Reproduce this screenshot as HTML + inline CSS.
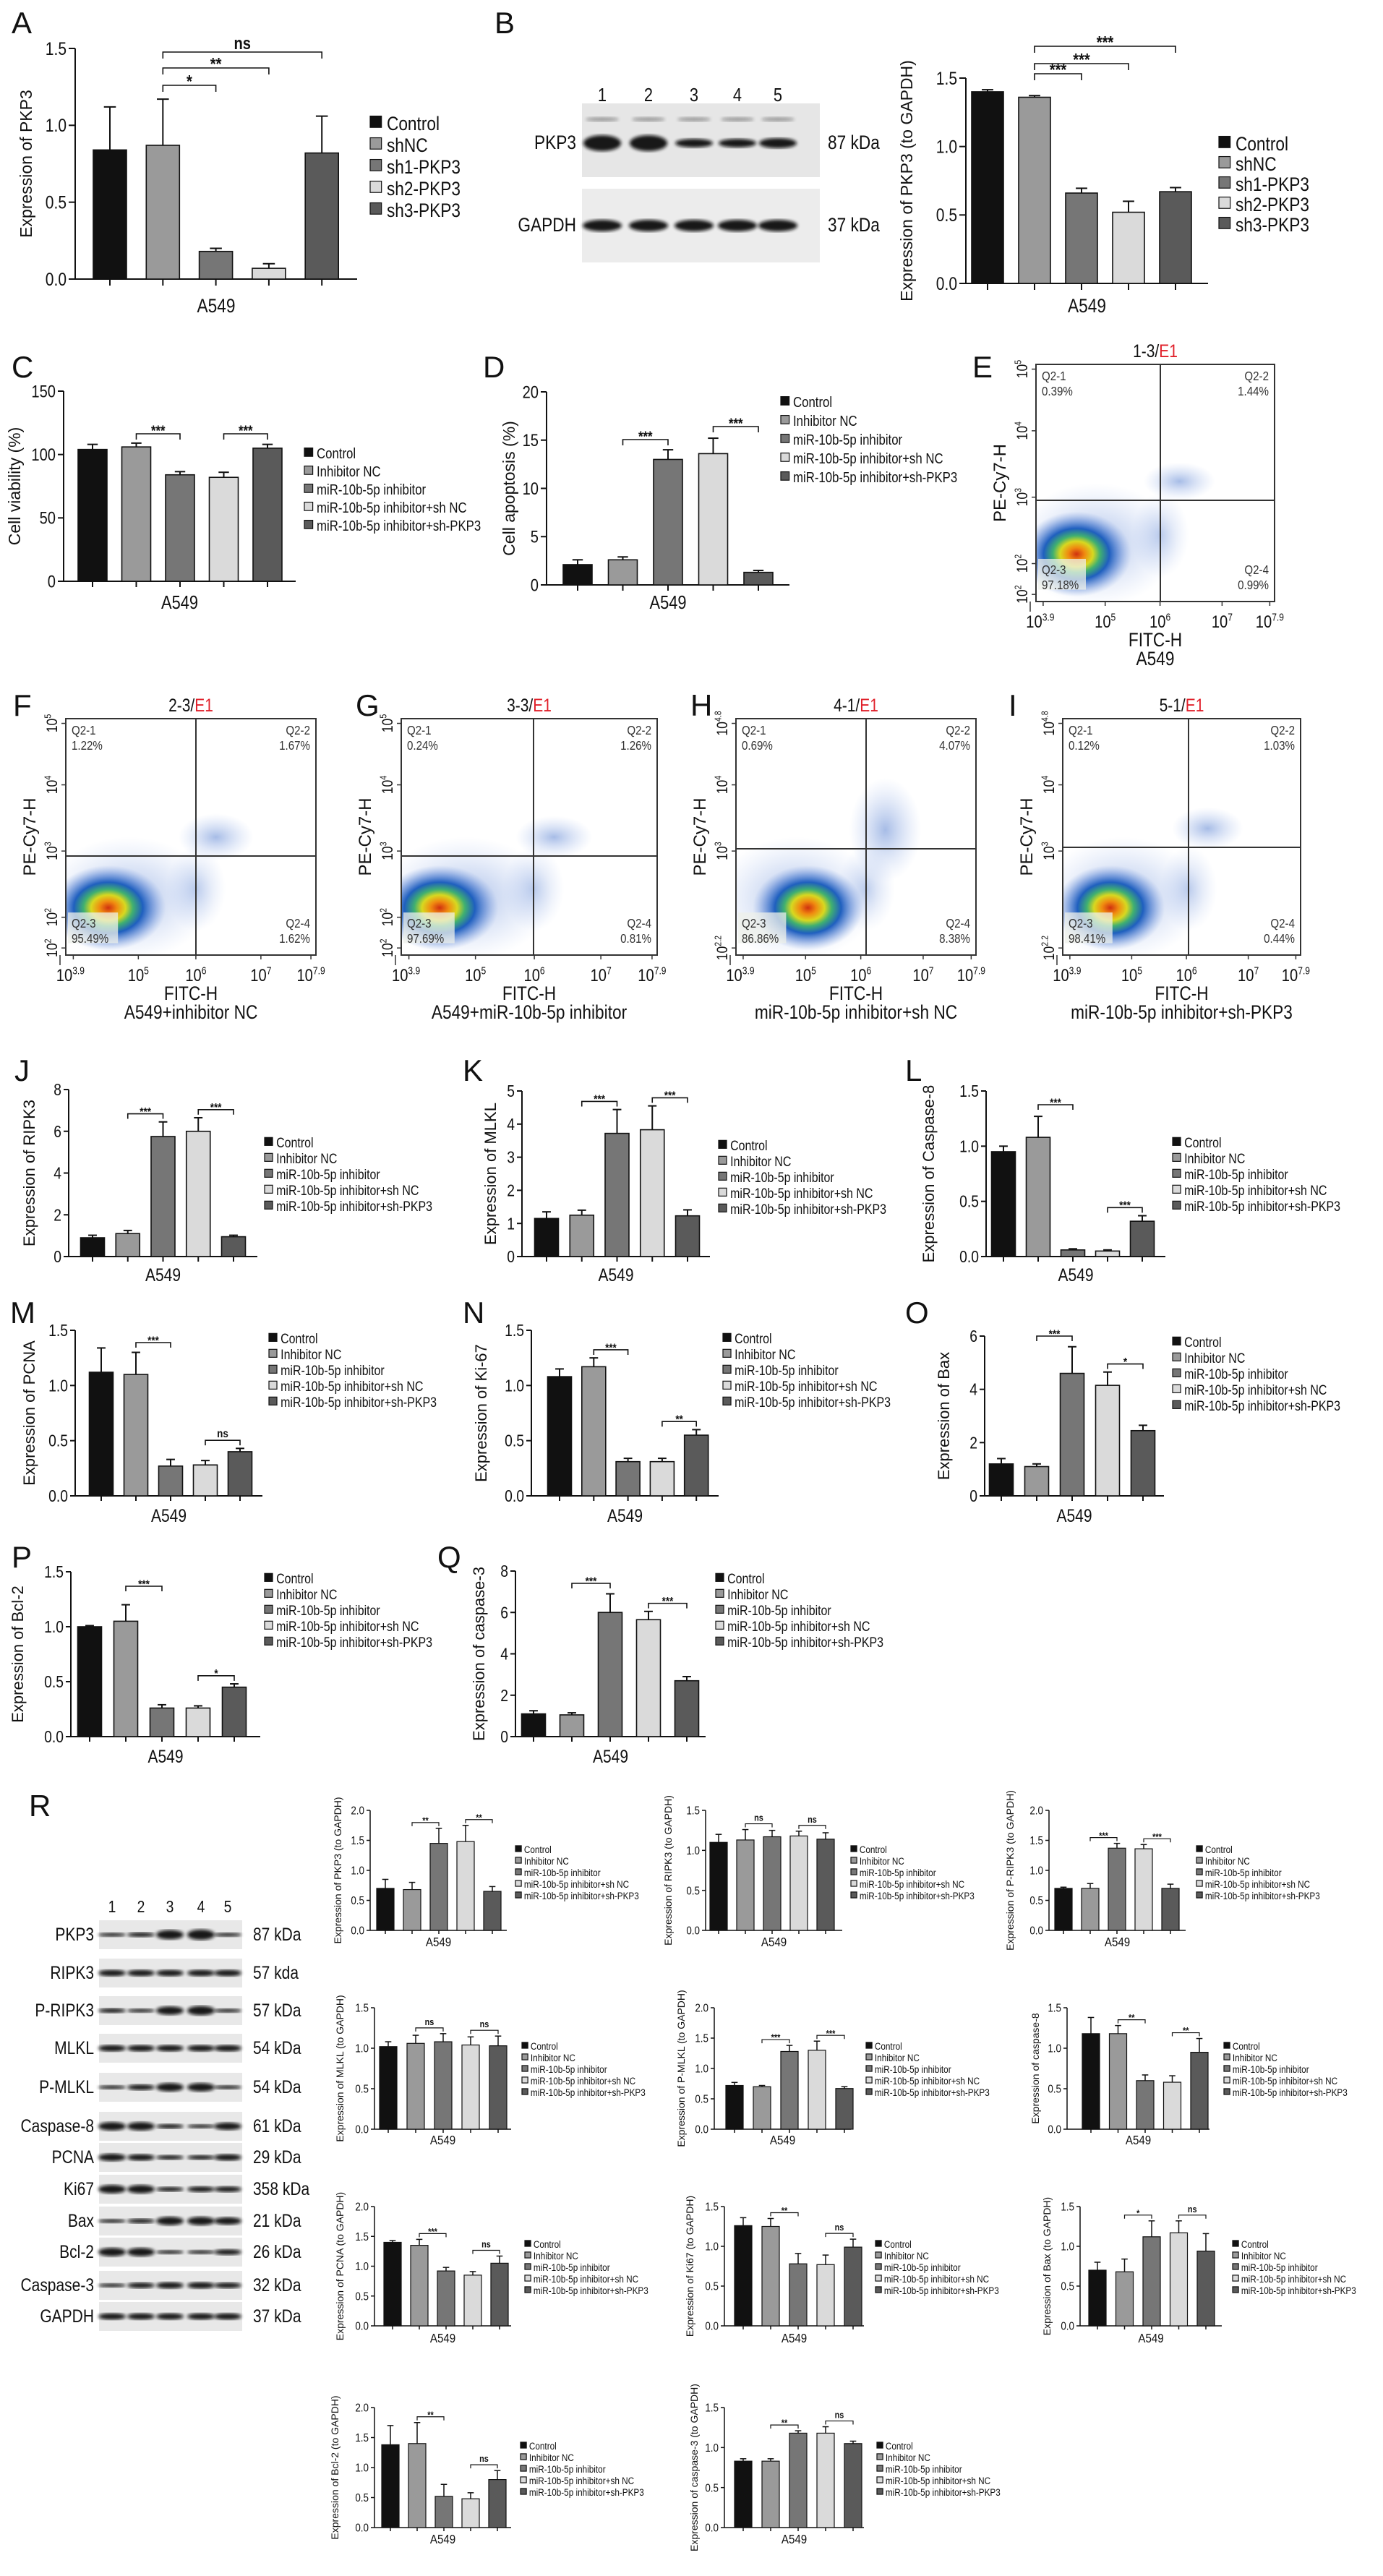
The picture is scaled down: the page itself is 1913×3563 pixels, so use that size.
<!DOCTYPE html>
<html><head><meta charset="utf-8">
<style>
html,body{margin:0;padding:0;background:#fff}
svg{display:block;font-family:"Liberation Sans Narrow","Liberation Sans",sans-serif}
</style></head>
<body>
<svg id="fig" width="1913" height="3563" viewBox="0 0 1913 3563" xmlns="http://www.w3.org/2000/svg">
<defs>
<filter id="blur3"><feGaussianBlur stdDeviation="2.5"/></filter>
<radialGradient id="dens" cx="0.5" cy="0.5" r="0.5">
<stop offset="0" stop-color="#d0300f"/>
<stop offset="0.15" stop-color="#f08a10"/>
<stop offset="0.3" stop-color="#d8d820"/>
<stop offset="0.43" stop-color="#40b070"/>
<stop offset="0.6" stop-color="#1f5fbf"/>
<stop offset="0.8" stop-color="#4a7ad0" stop-opacity="0.5"/>
<stop offset="1" stop-color="#7fa0e0" stop-opacity="0"/>
</radialGradient>
<radialGradient id="sparse" cx="0.5" cy="0.5" r="0.5">
<stop offset="0" stop-color="#3a6ac8" stop-opacity="0.45"/>
<stop offset="1" stop-color="#8aa8e8" stop-opacity="0"/>
</radialGradient>
</defs>
</svg>
<script>
// ---------- DATA ----------
const groupsA=['Control','shNC','sh1-PKP3','sh2-PKP3','sh3-PKP3'];
const groupsMi=['Control','Inhibitor NC','miR-10b-5p inhibitor','miR-10b-5p inhibitor+sh NC','miR-10b-5p inhibitor+sh-PKP3'];
const valsA=[0.84,0.87,0.18,0.07,0.82];
const errsA=[0.28,0.30,0.02,0.03,0.24];
const valsB=[1.40,1.36,0.66,0.52,0.67];
const errsB=[0.015,0.012,0.035,0.08,0.03];
const valsC=[104,106,84,82,105];
const errsC=[4,3,2.5,4,3];
const valsD=[2.1,2.6,13,13.6,1.3];
const errsD=[0.5,0.3,1.0,1.6,0.2];
const valsJ=[0.9,1.1,5.75,6.0,0.95];
const errsJ=[0.12,0.15,0.7,0.65,0.07];
const valsK=[1.15,1.25,3.72,3.83,1.23];
const errsK=[0.2,0.15,0.72,0.72,0.18];
const valsL=[0.95,1.08,0.06,0.05,0.32];
const errsL=[0.05,0.19,0.01,0.01,0.05];
const valsM=[1.12,1.10,0.27,0.28,0.40];
const errsM=[0.22,0.20,0.06,0.04,0.03];
const valsN=[1.08,1.17,0.31,0.31,0.55];
const errsN=[0.07,0.08,0.03,0.03,0.05];
const valsO=[1.2,1.1,4.6,4.15,2.45];
const errsO=[0.2,0.1,1.0,0.5,0.2];
const valsP=[1.0,1.05,0.26,0.26,0.45];
const errsP=[0.01,0.15,0.03,0.02,0.03];
const valsQ=[1.1,1.05,6.0,5.65,2.7];
const errsQ=[0.15,0.1,0.9,0.4,0.2];
const valsR_PKP3=[0.70,0.68,1.45,1.48,0.65];
const errsR_PKP3=[0.15,0.12,0.25,0.27,0.08];
const valsR_RIPK3=[1.10,1.13,1.17,1.18,1.14];
const errsR_RIPK3=[0.10,0.13,0.08,0.06,0.08];
const valsR_PRIPK3=[0.70,0.70,1.37,1.36,0.70];
const errsR_PRIPK3=[0.02,0.08,0.08,0.07,0.07];
const valsR_MLKL=[1.02,1.06,1.08,1.04,1.03];
const errsR_MLKL=[0.06,0.10,0.10,0.10,0.12];
const valsR_PMLKL=[0.72,0.70,1.28,1.30,0.67];
const errsR_PMLKL=[0.05,0.02,0.10,0.15,0.03];
const valsR_C8=[1.18,1.18,0.60,0.58,0.95];
const errsR_C8=[0.20,0.10,0.07,0.08,0.17];
const valsR_PCNA=[1.40,1.35,0.92,0.85,1.05];
const errsR_PCNA=[0.03,0.10,0.06,0.06,0.12];
const valsR_Ki67=[1.26,1.25,0.78,0.77,0.99];
const errsR_Ki67=[0.10,0.10,0.13,0.12,0.10];
const valsR_Bax=[0.70,0.68,1.12,1.17,0.94];
const errsR_Bax=[0.10,0.16,0.20,0.15,0.22];
const valsR_Bcl2=[1.38,1.40,0.52,0.48,0.80];
const errsR_Bcl2=[0.32,0.35,0.20,0.10,0.15];
const valsR_C3=[0.83,0.83,1.18,1.18,1.05];
const errsR_C3=[0.03,0.03,0.03,0.08,0.03];
const ticks15=['0.0','0.5','1.0','1.5'];
const ticks20=['0.0','0.5','1.0','1.5','2.0'];
const ticksC=['0','50','100','150'];
const ticksD=['0','5','10','15','20'];
const ticks8=['0','2','4','6','8'];
const ticks5=['0','1','2','3','4','5'];
const ticks6=['0','2','4','6'];
const blotRows=['PKP3','RIPK3','P-RIPK3','MLKL','P-MLKL','Caspase-8','PCNA','Ki67','Bax','Bcl-2','Caspase-3','GAPDH'];
const blotKda=['87 kDa','57 kda','57 kDa','54 kDa','54 kDa','61 kDa','29 kDa','358 kDa','21 kDa','26 kDa','32 kDa','37 kDa'];
const blotBands=[[4,5,10,11,4],[7,7,7,7,7],[5,4,9,10,4],[7,7,7,7,7],[4,6,9,9,4],[9,9,5,4,8],[8,7,5,5,7],[9,9,5,6,6],[4,5,9,9,8],[9,9,4,4,6],[4,6,7,7,6],[7,7,7,7,7]];
const COLORS=['#111111','#9a9a9a','#767676','#dadada','#5a5a5a'];

// ---------- helpers ----------
const svg=document.getElementById('fig');
const NS='http://www.w3.org/2000/svg';
const SX=0.84;
function mk(tag,attrs,parent){const e=document.createElementNS(NS,tag);for(const k in attrs)e.setAttribute(k,attrs[k]);(parent||svg).appendChild(e);return e;}
function txt(s,x,y,fs,anchor,parent,extra){
  extra=extra||{};
  let a;
  if(extra.transform){a=Object.assign({x:x,y:y,'font-size':fs,'text-anchor':anchor||'start',fill:'#111'},extra);a.transform=extra.transform+` scale(${SX},1)`;}
  else a=Object.assign({x:0,y:0,'font-size':fs,'text-anchor':anchor||'start',fill:'#111',transform:`translate(${x},${y}) scale(${SX},1)`},extra);
  const t=mk('text',a,parent);t.textContent=s;return t;}

function panelLabel(s,x,y){
  const t=mk('text',{x:x,y:y,'font-size':42,fill:'#111','font-family':'Liberation Sans, sans-serif'});
  t.textContent=s;
  
  
}

function barChart(c,vals,errs,tickLabels,labels){
  const g=mk('g',{});
  
  
  const ymax=c.ymax;
  const yS=v=>c.yb-(v/ymax)*(c.yb-c.yt);
  const xS=i=>c.c0+i*c.dc;
  const sw=c.sw||2;
  const ya=mk('line',{x1:c.ax,y1:c.yt,x2:c.ax,y2:c.yb,stroke:'#111','stroke-width':sw},g);
  
  
  const xa=mk('line',{x1:c.ax,y1:c.yb,x2:c.ar,y2:c.yb,stroke:'#111','stroke-width':sw},g);
  
  
  const n=tickLabels.length;
  for(let k=0;k<n;k++){
    const v=ymax*k/(n-1);const y=yS(v);
    mk('line',{x1:c.ax-c.tl,y1:y,x2:c.ax,y2:y,stroke:'#111','stroke-width':sw},g);
    const t=txt(tickLabels[k],c.ax-c.tl-3,y+c.tfs*0.35,c.tfs,'end',g);
    
    
  }
  vals.forEach((v,i)=>{
    const x=xS(i);
    mk('line',{x1:x,y1:c.yb,x2:x,y2:c.yb+c.tl,stroke:'#111','stroke-width':sw},g);
    const top=yS(v+errs[i]);
    const el=mk('line',{x1:x,y1:yS(v),x2:x,y2:top,stroke:'#111','stroke-width':sw},g);
    
    
    mk('line',{x1:x-c.bw*0.18,y1:top,x2:x+c.bw*0.18,y2:top,stroke:'#111','stroke-width':sw},g);
    const r=mk('rect',{x:x-c.bw/2,y:yS(v),width:c.bw,height:c.yb-yS(v),fill:COLORS[i],stroke:'#111','stroke-width':sw*0.8},g);
    
    
  });
  (c.br||[]).forEach(b=>{
    const i=b[0],j=b[1];
    const y=(b[2]!=null)?b[2]:yS(Math.max(vals[i]+errs[i],vals[j]+errs[j]))-c.tl*1.6;
    const p=mk('path',{d:`M${xS(i)},${y+c.tl}V${y}H${xS(j)}V${y+c.tl}`,fill:'none',stroke:'#111','stroke-width':sw*0.8},g);
    
    
    const t=txt(b[3],(xS(i)+xS(j))/2,b[3]==='ns'?y-4:y+c.tfs*0.1,c.sfs,'middle',g,{'font-weight':'bold'});
    
    
  });
  const yt=mk('text',{x:0,y:0,'font-size':c.yfs,'text-anchor':'middle',fill:'#111',transform:`translate(${c.ytx},${(c.yt+c.yb)/2}) rotate(-90)`,'font-family':'Liberation Sans, sans-serif'},g);
  yt.textContent=c.ytitle;
  
  
  const xl=txt('A549',(c.ax+c.ar)/2,c.xly,c.xfs,'middle',g);
  
  
  labels.forEach((s,i)=>{
    const y=c.ly+i*c.ldy;
    const sq=mk('rect',{x:c.lx,y:y-c.lfs*0.72,width:c.lfs*0.58,height:c.lfs*0.58,fill:COLORS[i],stroke:'#111','stroke-width':1.2},g);
    
    
    const t=txt(s,c.lx+c.lfs*0.85,y,c.lfs,'start',g);
    
    
  });
}

function sup(parent,base,exp,x,y,fs,anchor,rot){
  const t=mk('text',{x:0,y:0,'font-size':fs,'text-anchor':anchor||'middle',fill:'#111',transform:`translate(${x},${y})${rot?' rotate(-90)':''} scale(${SX},1)`},parent);
  const a=mk('tspan',{},t);a.textContent=base;
  const b=mk('tspan',{dy:-fs*0.4,'font-size':fs*0.6},t);b.textContent=exp;
  return t;
}

function flow(f){
  const g=mk('g',{});
  
  
  const [x0,y0,x1,y1]=f.box;const w=x1-x0,h=y1-y0;
  const clip=mk('clipPath',{id:'clip'+f.id},g);
  mk('rect',{x:x0,y:y0,width:w,height:h},clip);
  const dg=mk('g',{'clip-path':`url(#clip${f.id})`},g);
  mk('ellipse',{cx:x0+w*0.25,cy:y0+h*0.76,rx:w*0.34,ry:h*0.26,fill:'url(#sparse)'},dg);
  mk('ellipse',{cx:f.cross[0]+w*0.08,cy:f.cross[1]-h*0.08,rx:w*0.15,ry:h*f.upr,fill:'url(#sparse)'},dg);
  mk('ellipse',{cx:f.cross[0],cy:y0+h*0.72,rx:w*0.12,ry:h*0.18,fill:'url(#sparse)',opacity:0.7},dg);
  const bl=mk('ellipse',{cx:x0+w*f.bx,cy:y0+h*0.8,rx:w*0.23,ry:h*0.18,fill:'url(#dens)'},dg);
  
  
  mk('rect',{x:x0+3,y:y0+h*0.82,width:w*0.2,height:h*0.13,fill:'#eef0ea',opacity:0.75},dg);
  const fr=mk('rect',{x:x0,y:y0,width:w,height:h,fill:'none',stroke:'#333','stroke-width':2},g);
  
  
  const vl=mk('line',{x1:f.cross[0],y1:y0,x2:f.cross[0],y2:y1,stroke:'#333','stroke-width':2},g);
  
  
  const hl=mk('line',{x1:x0,y1:f.cross[1],x2:x1,y2:f.cross[1],stroke:'#333','stroke-width':2},g);
  
  
  const t=mk('text',{x:0,y:0,'font-size':25,'text-anchor':'middle',fill:'#111',transform:`translate(${(x0+x1)/2},${y0-10}) scale(${SX},1)`},g);
  
  
  const t1=mk('tspan',{},t);t1.textContent=f.title+'/';
  const t2=mk('tspan',{fill:'#e0202a'},t);t2.textContent='E1';
  const qfs=18;
  const q=[[x0+8,y0+22,'start','Q2-1',f.q[0]],[x1-8,y0+22,'end','Q2-2',f.q[1]],[x0+8,y1-38,'start','Q2-3',f.q[2]],[x1-8,y1-38,'end','Q2-4',f.q[3]]];
  q.forEach(a=>{
    const qt=txt(a[3],a[0],a[1],qfs,a[2],g,{fill:'#333'});
    
    
    const qv=txt(a[4],a[0],a[1]+21,qfs,a[2],g,{fill:'#333'});
    
    
  });
  const xf=[0.03,0.29,0.52,0.78,0.98];const xe=['3.9','5','6','7','7.9'];
  xf.forEach((fr2,i)=>{
    mk('line',{x1:x0+w*fr2,y1:y1,x2:x0+w*fr2,y2:y1+6,stroke:'#333','stroke-width':1.5},g);
    const s=sup(g,'10',xe[i],x0+w*fr2+(i==0?-4:0),y1+36,24,'middle');
    
    
  });
  mk('line',{x1:x0-8,y1:y1,x2:x0-8,y2:y1+14,stroke:'#333','stroke-width':1.5},g);
  const yf=[0.02,0.28,0.56,0.84,0.97];
  f.ye.forEach((e,i)=>{
    if(e==null)return;
    const yy=y0+h*yf[i];
    mk('line',{x1:x0-6,y1:yy,x2:x0,y2:yy,stroke:'#333','stroke-width':1.5},g);
    const s=sup(g,'10',e,x0-12,yy,21,'middle',true);
    
    
  });
  const yt=mk('text',{x:0,y:0,'font-size':24,'text-anchor':'middle',fill:'#111',transform:`translate(${x0-42},${(y0+y1)/2}) rotate(-90)`,'font-family':'Liberation Sans, sans-serif'},g);
  yt.textContent='PE-Cy7-H';
  
  
  const xt=txt('FITC-H',(x0+x1)/2,y1+62,27,'middle',g);
  
  
  const st=txt(f.sub,(x0+x1)/2,y1+88,27,'middle',g);
  
  
}

function band(parent,cx,cy,w,h,op){
  mk('ellipse',{cx:cx,cy:cy,rx:w/2,ry:h/2,fill:'#111',opacity:op==null?0.95:op,filter:'url(#blur3)'},parent);
}

// ---------- PANEL LABELS ----------
[['A',16,46],['B',684,46],['C',16,522],['D',668,522],['E',1345,522],['F',18,990],['G',492,990],['H',955,990],['I',1395,990],['J',20,1495],['K',640,1495],['L',1252,1495],['M',14,1830],['N',640,1830],['O',1252,1830],['P',16,2168],['Q',605,2168],['R',40,2512]].forEach(a=>panelLabel(a[0],a[1],a[2]));

// ---------- A ----------
barChart({name:'chart-a-pkp3-expression',ax:104,ar:494,yt:67,yb:386,ymax:1.5,c0:152,dc:73.3,bw:46,tl:9,tfs:25,sfs:24,ytitle:'Expression of PKP3',ytx:44,yfs:23,xly:432,xfs:27,lx:512,ly:180,ldy:30,lfs:27,
 br:[[1,2,118,'*'],[1,3,94,'**'],[1,4,72,'ns']]},valsA,errsA,ticks15,groupsA);
// ---------- B blot ----------
(function(){
 const g=mk('g',{});
 
 
 mk('rect',{x:805,y:143,width:329,height:102,fill:'#e6e6e6'},g);
 mk('rect',{x:805,y:261,width:329,height:102,fill:'#ececec'},g);
 const lanes=[833,897,960,1020,1076];const hp=[22,22,12,12,14];
 lanes.forEach((x,i)=>{band(g,x,198,52,hp[i]);band(g,x,165,46,6,0.35);band(g,x,312,54,16);
   const l=txt(String(i+1),x,140,26,'middle',g);
   
   });
 const a=txt('PKP3',797,206,27,'end',g);
 const b=txt('GAPDH',797,320,27,'end',g);
 const c=txt('87 kDa',1145,206,27,'start',g);
 const d=txt('37 kDa',1145,320,27,'start',g);
})();
barChart({name:'chart-b-pkp3-gapdh',ax:1336,ar:1671,yt:108,yb:392,ymax:1.5,c0:1366,dc:65,bw:44,tl:9,tfs:25,sfs:24,ytitle:'Expression of PKP3 (to GAPDH)',ytx:1262,yfs:23,xly:432,xfs:27,lx:1686,ly:208,ldy:28,lfs:27,
 br:[[1,2,102,'***'],[1,3,88,'***'],[1,4,64,'***']]},valsB,errsB,ticks15,groupsA);
// ---------- C, D ----------
barChart({name:'chart-c-cell-viability',ax:88,ar:409,yt:541,yb:804,ymax:150,c0:128,dc:60.5,bw:40,tl:8,tfs:24,sfs:20,ytitle:'Cell viability (%)',ytx:28,yfs:23,xly:842,xfs:26,lx:421,ly:634,ldy:25,lfs:20,
 br:[[1,2,600,'***'],[3,4,600,'***']]},valsC,errsC,ticksC,groupsMi);
barChart({name:'chart-d-cell-apoptosis',ax:756,ar:1092,yt:542,yb:809,ymax:20,c0:799,dc:62.5,bw:40,tl:8,tfs:24,sfs:20,ytitle:'Cell apoptosis (%)',ytx:712,yfs:23,xly:842,xfs:26,lx:1080,ly:563,ldy:26,lfs:20,
 br:[[1,2,608,'***'],[3,4,590,'***']]},valsD,errsD,ticksD,groupsMi);
// ---------- flow ----------
flow({id:'e',name:'flow-e-control',box:[1433,504,1763,832],cross:[1605,692],title:'1-3',q:['0.39%','1.44%','97.18%','0.99%'],sub:'A549',ye:['5','4','3','2','2'],bx:0.17,upr:0.08});
flow({id:'f',name:'flow-f-inhibitor-nc',box:[91,994,437,1321],cross:[271,1184],title:'2-3',q:['1.22%','1.67%','95.49%','1.62%'],sub:'A549+inhibitor NC',ye:['5','4','3','2','2'],bx:0.17,upr:0.1});
flow({id:'g',name:'flow-g-mir-inhibitor',box:[555,994,909,1321],cross:[738,1184],title:'3-3',q:['0.24%','1.26%','97.69%','0.81%'],sub:'A549+miR-10b-5p inhibitor',ye:['5','4','3','2','2'],bx:0.15,upr:0.09});
flow({id:'h',name:'flow-h-inhibitor-sh-nc',box:[1018,994,1350,1321],cross:[1198,1174],title:'4-1',q:['0.69%','4.07%','86.86%','8.38%'],sub:'miR-10b-5p inhibitor+sh NC',ye:['4.8','4','3',null,'2.2'],bx:0.3,upr:0.22});
flow({id:'i',name:'flow-i-inhibitor-sh-pkp3',box:[1470,994,1799,1321],cross:[1644,1172],title:'5-1',q:['0.12%','1.03%','98.41%','0.44%'],sub:'miR-10b-5p inhibitor+sh-PKP3',ye:['4.8','4','3',null,'2.2'],bx:0.2,upr:0.09});
// ---------- J-Q ----------
const sm={tl:7,tfs:23,sfs:16,yfs:22,xfs:25,ldy:22,lfs:19};
barChart(Object.assign({name:'chart-j-ripk3',ax:95,ar:356,yt:1507,yb:1738,ymax:8,c0:128,dc:48.75,bw:33,ytitle:'Expression of RIPK3',ytx:48,xly:1772,lx:366,ly:1587,br:[[1,2,null,'***'],[3,4,null,'***']]},sm),valsJ,errsJ,ticks8,groupsMi);
barChart(Object.assign({name:'chart-k-mlkl',ax:722,ar:982,yt:1509,yb:1738,ymax:5,c0:756,dc:48.75,bw:33,ytitle:'Expression of MLKL',ytx:686,xly:1772,lx:994,ly:1591,br:[[1,2,null,'***'],[3,4,null,'***']]},sm),valsK,errsK,ticks5,groupsMi);
barChart(Object.assign({name:'chart-l-caspase-8',ax:1364,ar:1612,yt:1509,yb:1738,ymax:1.5,c0:1388,dc:48,bw:33,ytitle:'Expression of Caspase-8',ytx:1292,xly:1772,lx:1622,ly:1587,br:[[1,2,1528,'***'],[3,4,null,'***']]},sm),valsL,errsL,ticks15,groupsMi);
barChart(Object.assign({name:'chart-m-pcna',ax:104,ar:363,yt:1840,yb:2069,ymax:1.5,c0:140,dc:48,bw:33,ytitle:'Expression of PCNA',ytx:48,xly:2105,lx:372,ly:1858,br:[[1,2,1857,'***'],[3,4,null,'ns']]},sm),valsM,errsM,ticks15,groupsMi);
barChart(Object.assign({name:'chart-n-ki67',ax:735,ar:994,yt:1840,yb:2069,ymax:1.5,c0:774,dc:47.3,bw:33,ytitle:'Expression of Ki-67',ytx:673,xly:2105,lx:1000,ly:1858,br:[[1,2,null,'***'],[3,4,null,'**']]},sm),valsN,errsN,ticks15,groupsMi);
barChart(Object.assign({name:'chart-o-bax',ax:1362,ar:1610,yt:1848,yb:2069,ymax:6,c0:1385,dc:49,bw:33,ytitle:'Expression of Bax',ytx:1313,xly:2105,lx:1622,ly:1863,br:[[1,2,1848,'***'],[3,4,null,'*']]},sm),valsO,errsO,ticks6,groupsMi);
barChart(Object.assign({name:'chart-p-bcl2',ax:98,ar:360,yt:2174,yb:2402,ymax:1.5,c0:124,dc:50,bw:33,ytitle:'Expression of Bcl-2',ytx:32,xly:2438,lx:366,ly:2190,br:[[1,2,2194,'***'],[3,4,null,'*']]},sm),valsP,errsP,ticks15,groupsMi);
barChart(Object.assign({name:'chart-q-caspase-3',ax:713,ar:976,yt:2173,yb:2402,ymax:8,c0:738,dc:53,bw:33,ytitle:'Expression of caspase-3',ytx:670,xly:2438,lx:990,ly:2190,br:[[1,2,2190,'***'],[3,4,null,'***']]},sm),valsQ,errsQ,ticks8,groupsMi);
// ---------- R blot ----------
(function(){
 const g=mk('g',{});
 
 
 const ys=[2676,2729,2781,2833,2887,2941,2984,3028,3072,3115,3161,3204];
 const lanes=[155,195,235,278,315];
 lanes.forEach((x,i)=>{const l=txt(String(i+1),x,2645,23,'middle',g);
   
   });
 blotRows.forEach((name,r)=>{
   const y=ys[r];
   mk('rect',{x:137,y:y-20,width:198,height:40,fill:'#e8e8e8'},g);
   lanes.forEach((x,i)=>band(g,x,y,38,blotBands[r][i]*1.3));
   const a=txt(name,130,y+8,25,'end',g);
   
   
   const b=txt(blotKda[r],350,y+8,25,'start',g);
   
   
 });
})();
// ---------- R charts ----------
const rs={tl:5,tfs:16,sfs:13,yfs:14,xfs:18,ldy:16,lfs:14,bw:24,dc:37,sw:1.5};
function rc(o,v,e,t){barChart(Object.assign({},rs,o),v,e,t,groupsMi);}
rc({name:'chart-r-pkp3',ax:512,ar:701,yt:2504,yb:2670,ymax:2,c0:533,ytitle:'Expression of PKP3 (to GAPDH)',ytx:472,xly:2692,lx:713,ly:2563,br:[[1,2,null,'**'],[3,4,null,'**']]},valsR_PKP3,errsR_PKP3,ticks20);
rc({name:'chart-r-ripk3',ax:976,ar:1165,yt:2504,yb:2670,ymax:1.5,c0:994,ytitle:'Expression of RIPK3 (to GAPDH)',ytx:929,xly:2692,lx:1177,ly:2563,br:[[1,2,null,'ns'],[3,4,null,'ns']]},valsR_RIPK3,errsR_RIPK3,ticks15);
rc({name:'chart-r-p-ripk3',ax:1451,ar:1640,yt:2504,yb:2670,ymax:2,c0:1471,ytitle:'Expression of P-RIPK3 (to GAPDH)',ytx:1402,xly:2692,lx:1655,ly:2563,br:[[1,2,null,'***'],[3,4,null,'***']]},valsR_PRIPK3,errsR_PRIPK3,ticks20);
rc({name:'chart-r-mlkl',ax:518,ar:707,yt:2777,yb:2945,ymax:1.5,c0:537,dc:38,ytitle:'Expression of MLKL (to GAPDH)',ytx:475,xly:2966,lx:722,ly:2835,br:[[1,2,null,'ns'],[3,4,null,'ns']]},valsR_MLKL,errsR_MLKL,ticks15);
rc({name:'chart-r-p-mlkl',ax:988,ar:1177,yt:2777,yb:2945,ymax:2,c0:1016,dc:38,ytitle:'Expression of P-MLKL (to GAPDH)',ytx:947,xly:2966,lx:1198,ly:2835,br:[[1,2,null,'***'],[3,4,null,'***']]},valsR_PMLKL,errsR_PMLKL,ticks20);
rc({name:'chart-r-caspase-8',ax:1476,ar:1673,yt:2777,yb:2945,ymax:1.5,c0:1509,dc:37.5,ytitle:'Expression of caspase-8',ytx:1437,xly:2966,lx:1693,ly:2835,br:[[1,2,null,'**'],[3,4,null,'**']]},valsR_C8,errsR_C8,ticks15);
rc({name:'chart-r-pcna',ax:518,ar:707,yt:3052,yb:3217,ymax:2,c0:543,dc:37,ytitle:'Expression of PCNA (to GAPDH)',ytx:475,xly:3240,lx:726,ly:3109,br:[[1,2,null,'***'],[3,4,null,'ns']]},valsR_PCNA,errsR_PCNA,ticks20);
rc({name:'chart-r-ki67',ax:1002,ar:1195,yt:3052,yb:3217,ymax:1.5,c0:1028,dc:38,ytitle:'Expression of Ki67 (to GAPDH)',ytx:959,xly:3240,lx:1211,ly:3109,br:[[1,2,null,'**'],[3,4,null,'ns']]},valsR_Ki67,errsR_Ki67,ticks15);
rc({name:'chart-r-bax',ax:1494,ar:1690,yt:3052,yb:3217,ymax:1.5,c0:1518,dc:37.5,ytitle:'Expression of Bax (to GAPDH)',ytx:1453,xly:3240,lx:1705,ly:3109,br:[[1,2,null,'*'],[3,4,null,'ns']]},valsR_Bax,errsR_Bax,ticks15);
rc({name:'chart-r-bcl2',ax:518,ar:707,yt:3330,yb:3496,ymax:2,c0:540,dc:37,ytitle:'Expression of Bcl-2 (to GAPDH)',ytx:468,xly:3518,lx:720,ly:3388,br:[[1,2,null,'**'],[3,4,null,'ns']]},valsR_Bcl2,errsR_Bcl2,ticks20);
rc({name:'chart-r-caspase-3',ax:1002,ar:1195,yt:3330,yb:3496,ymax:1.5,c0:1028,dc:38,ytitle:'Expression of caspase-3 (to GAPDH)',ytx:965,xly:3518,lx:1213,ly:3388,br:[[1,2,null,'**'],[3,4,null,'ns']]},valsR_C3,errsR_C3,ticks15);
</script>
</body></html>
